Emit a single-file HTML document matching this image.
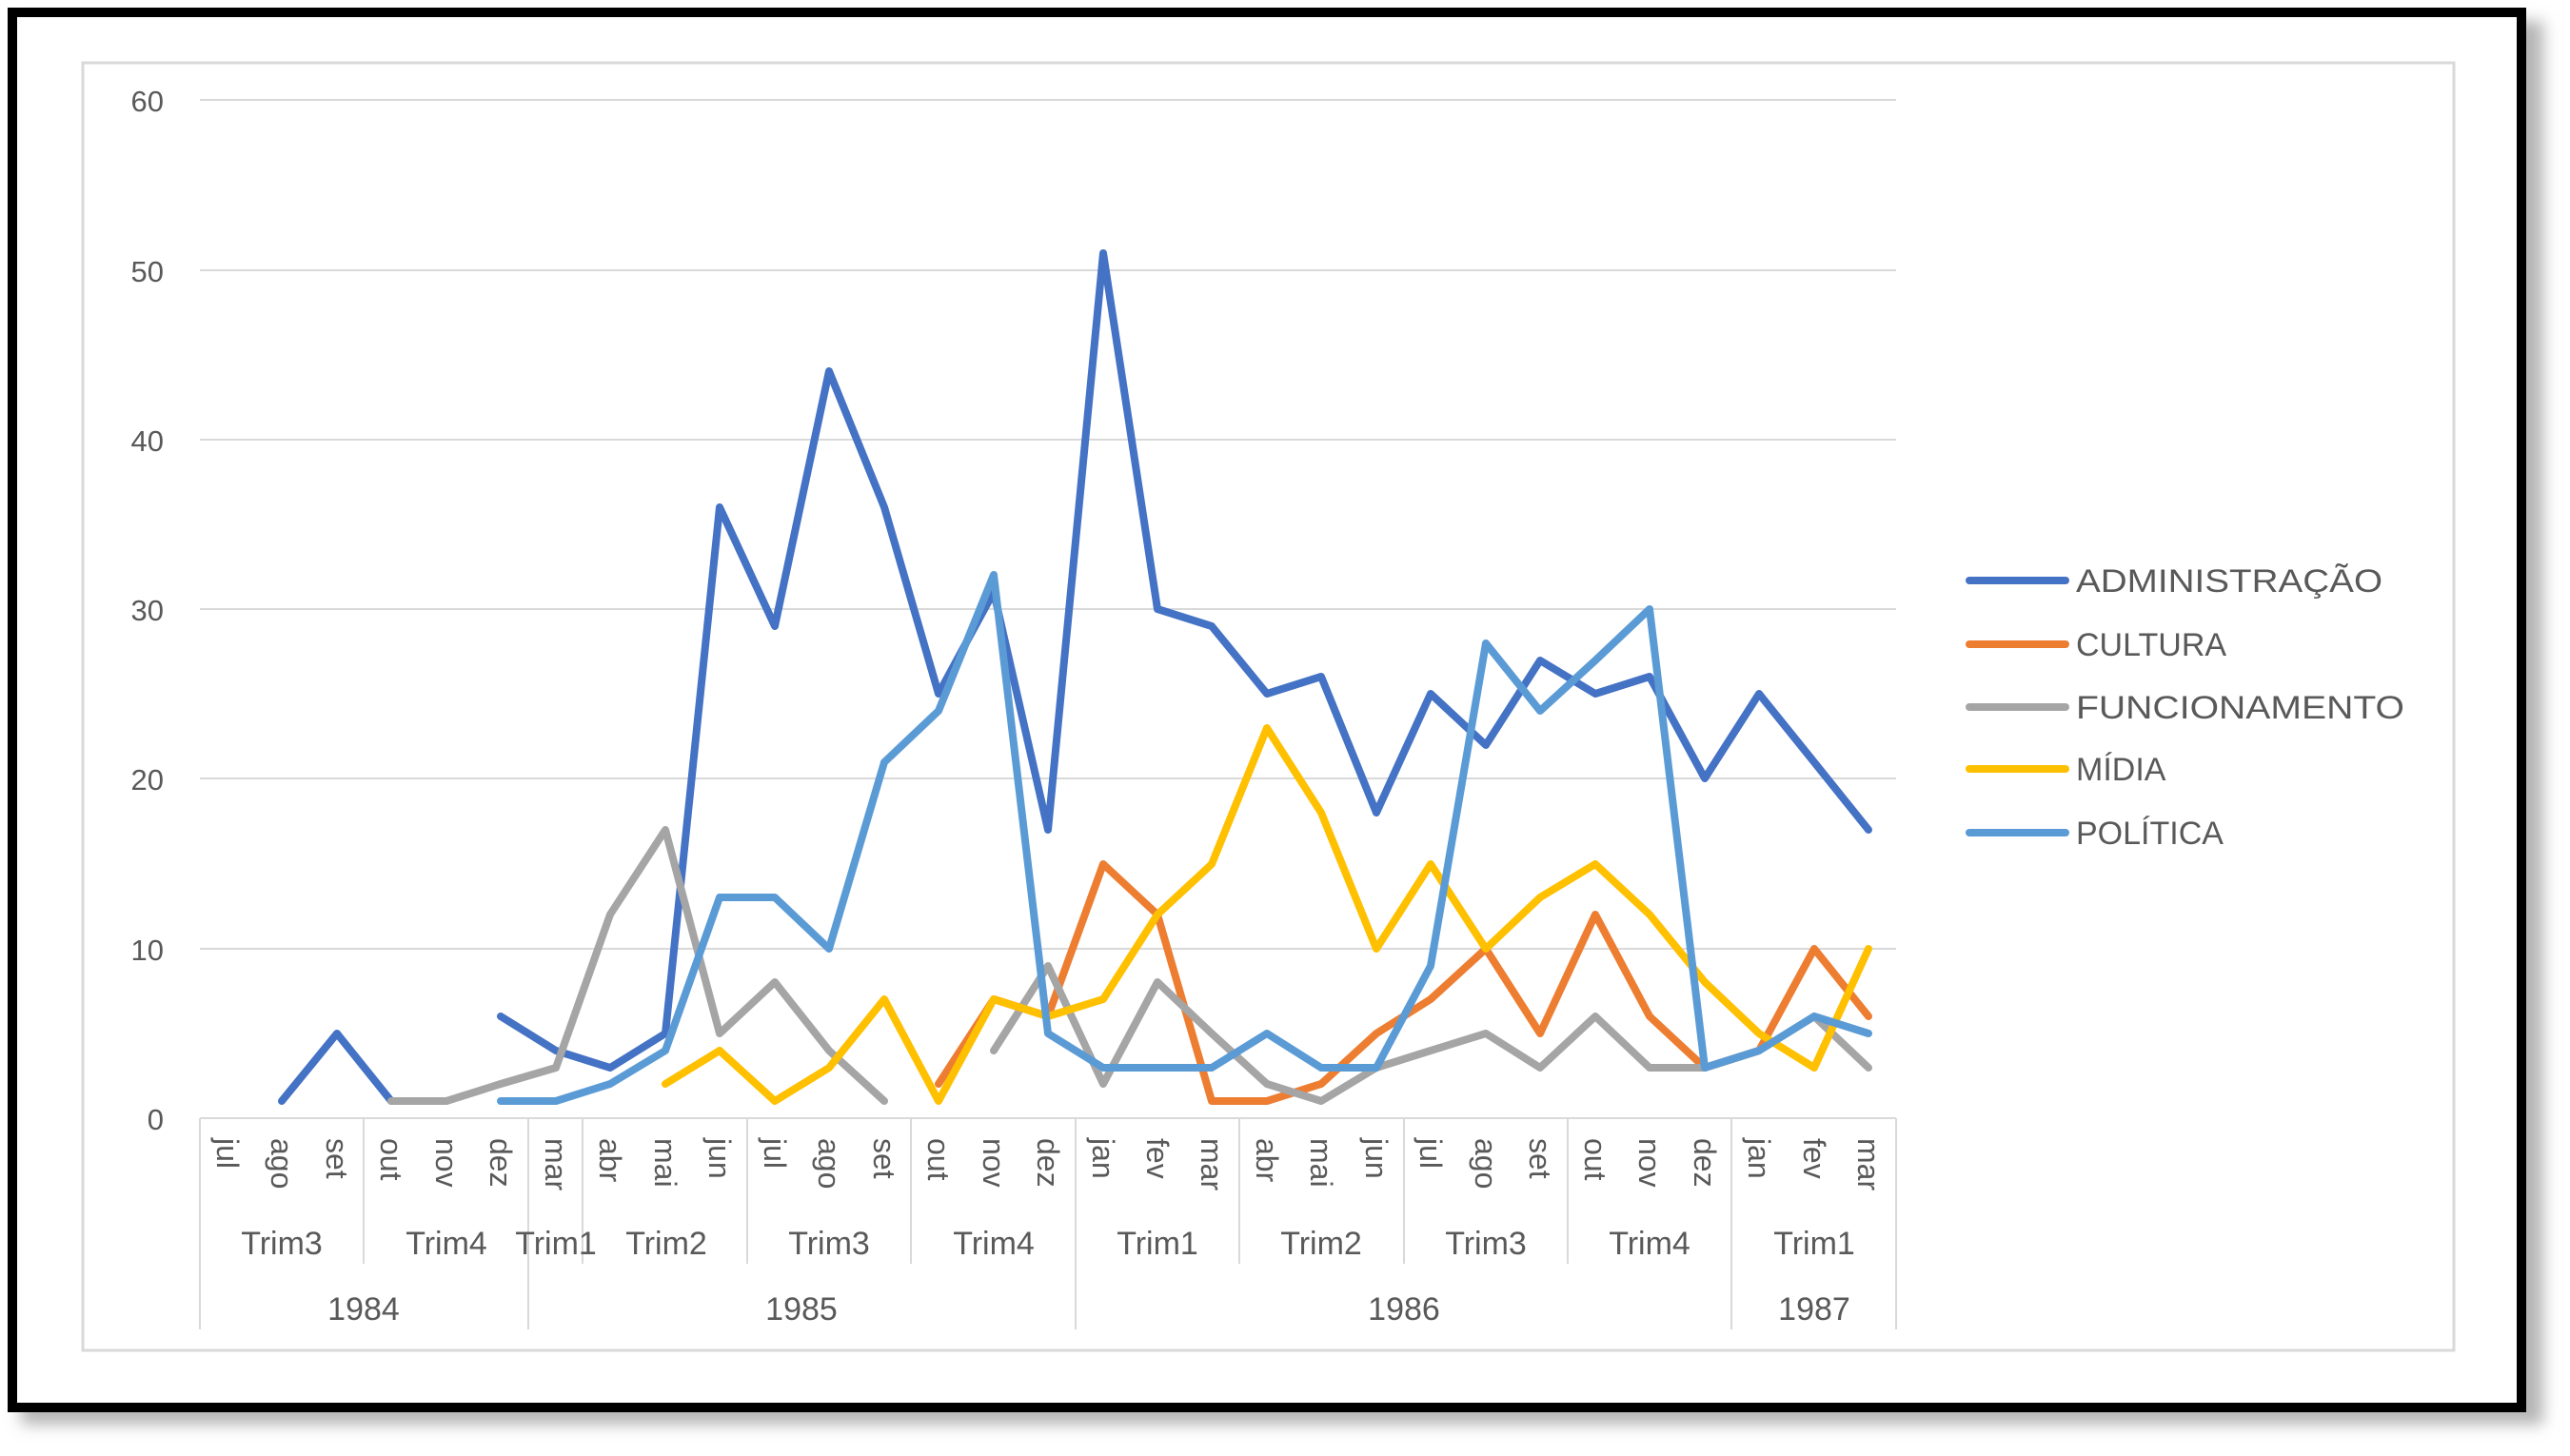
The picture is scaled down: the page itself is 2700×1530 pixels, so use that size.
<!DOCTYPE html>
<html><head><meta charset="utf-8"><style>
html,body{margin:0;padding:0;background:#fff;}
svg{display:block;}
text{font-family:"Liberation Sans",sans-serif;fill:#595959;}
</style></head><body>
<svg width="2700" height="1530" viewBox="0 0 2700 1530" xmlns="http://www.w3.org/2000/svg">
<defs><filter id="b" x="-5%" y="-5%" width="110%" height="110%"><feGaussianBlur stdDeviation="8"/></filter></defs>
<rect x="0" y="0" width="2700" height="1530" fill="#fff"/>
<!-- shadow -->
<rect x="22" y="22" width="2650" height="1475" fill="#b5b5b5" filter="url(#b)"/>
<rect x="13" y="13" width="2636" height="1466" fill="#fff" stroke="#000" stroke-width="10"/>
<!-- inner chart frame -->
<rect x="87" y="66" width="2491" height="1353" fill="#fff" stroke="#d9d9d9" stroke-width="3"/>
<!-- gridlines -->
<g stroke="#d9d9d9" stroke-width="2">
<line x1="210" y1="105" x2="1992" y2="105"/>
<line x1="210" y1="284" x2="1992" y2="284"/>
<line x1="210" y1="462" x2="1992" y2="462"/>
<line x1="210" y1="640" x2="1992" y2="640"/>
<line x1="210" y1="818" x2="1992" y2="818"/>
<line x1="210" y1="997" x2="1992" y2="997"/>
<line x1="210" y1="1175" x2="1992" y2="1175"/>
</g>
<!-- y labels -->
<g font-size="31" text-anchor="end">
<text x="172" y="117">60</text>
<text x="172" y="296">50</text>
<text x="172" y="474">40</text>
<text x="172" y="652">30</text>
<text x="172" y="830">20</text>
<text x="172" y="1009">10</text>
<text x="172" y="1187">0</text>
</g>
<!-- axis separators -->
<g stroke="#d9d9d9" stroke-width="2">
<line x1="210" y1="1175" x2="210" y2="1397"/>
<line x1="555" y1="1175" x2="555" y2="1397"/>
<line x1="1130" y1="1175" x2="1130" y2="1397"/>
<line x1="1819" y1="1175" x2="1819" y2="1397"/>
<line x1="1992" y1="1175" x2="1992" y2="1397"/>
<line x1="382" y1="1175" x2="382" y2="1328"/>
<line x1="612" y1="1175" x2="612" y2="1328"/>
<line x1="785" y1="1175" x2="785" y2="1328"/>
<line x1="957" y1="1175" x2="957" y2="1328"/>
<line x1="1302" y1="1175" x2="1302" y2="1328"/>
<line x1="1475" y1="1175" x2="1475" y2="1328"/>
<line x1="1647" y1="1175" x2="1647" y2="1328"/>
</g>
<!-- month labels -->
<g font-size="32">
<text transform="translate(228,1196) rotate(90)">jul</text>
<text transform="translate(285,1196) rotate(90)">ago</text>
<text transform="translate(343,1196) rotate(90)">set</text>
<text transform="translate(400,1196) rotate(90)">out</text>
<text transform="translate(458,1196) rotate(90)">nov</text>
<text transform="translate(515,1196) rotate(90)">dez</text>
<text transform="translate(573,1196) rotate(90)">mar</text>
<text transform="translate(630,1196) rotate(90)">abr</text>
<text transform="translate(688,1196) rotate(90)">mai</text>
<text transform="translate(745,1196) rotate(90)">jun</text>
<text transform="translate(803,1196) rotate(90)">jul</text>
<text transform="translate(860,1196) rotate(90)">ago</text>
<text transform="translate(918,1196) rotate(90)">set</text>
<text transform="translate(975,1196) rotate(90)">out</text>
<text transform="translate(1033,1196) rotate(90)">nov</text>
<text transform="translate(1090,1196) rotate(90)">dez</text>
<text transform="translate(1148,1196) rotate(90)">jan</text>
<text transform="translate(1205,1196) rotate(90)">fev</text>
<text transform="translate(1262,1196) rotate(90)">mar</text>
<text transform="translate(1320,1196) rotate(90)">abr</text>
<text transform="translate(1377,1196) rotate(90)">mai</text>
<text transform="translate(1435,1196) rotate(90)">jun</text>
<text transform="translate(1492,1196) rotate(90)">jul</text>
<text transform="translate(1550,1196) rotate(90)">ago</text>
<text transform="translate(1607,1196) rotate(90)">set</text>
<text transform="translate(1665,1196) rotate(90)">out</text>
<text transform="translate(1722,1196) rotate(90)">nov</text>
<text transform="translate(1780,1196) rotate(90)">dez</text>
<text transform="translate(1837,1196) rotate(90)">jan</text>
<text transform="translate(1895,1196) rotate(90)">fev</text>
<text transform="translate(1952,1196) rotate(90)">mar</text>
</g>
<!-- trim labels -->
<g font-size="34" text-anchor="middle">
<text x="296" y="1318">Trim3</text>
<text x="469" y="1318">Trim4</text>
<text x="584" y="1318">Trim1</text>
<text x="700" y="1318">Trim2</text>
<text x="871" y="1318">Trim3</text>
<text x="1044" y="1318">Trim4</text>
<text x="1216" y="1318">Trim1</text>
<text x="1388" y="1318">Trim2</text>
<text x="1561" y="1318">Trim3</text>
<text x="1733" y="1318">Trim4</text>
<text x="1906" y="1318">Trim1</text>
</g>
<g font-size="34" text-anchor="middle">
<text x="382" y="1387">1984</text>
<text x="842" y="1387">1985</text>
<text x="1475" y="1387">1986</text>
<text x="1906" y="1387">1987</text>
</g>
<!-- series -->
<g fill="none" stroke-width="8" stroke-linejoin="round" stroke-linecap="round">
<polyline stroke="#4472C4" points="296,1157 354,1086 411,1157"/>
<polyline stroke="#4472C4" points="526,1068 584,1104 641,1122 699,1086 756,533 814,658 871,390 929,533 986,729 1044,622 1101,872 1159,266 1216,640 1273,658 1331,729 1388,711 1446,854 1503,729 1561,783 1618,694 1676,729 1733,711 1791,818 1848,729 1906,801 1963,872"/>
<polyline stroke="#ED7D31" points="986,1139 1044,1050 1101,1068 1159,908 1216,961 1273,1157 1331,1157 1388,1139 1446,1086 1503,1050 1561,997 1618,1086 1676,961 1733,1068 1791,1122 1848,1104 1906,997 1963,1068"/>
<polyline stroke="#A5A5A5" points="411,1157 469,1157 526,1139 584,1122 641,961 699,872 756,1086 814,1032 871,1104 929,1157"/>
<polyline stroke="#A5A5A5" points="1044,1104 1101,1015 1159,1139 1216,1032 1273,1086 1331,1139 1388,1157 1446,1122 1503,1104 1561,1086 1618,1122 1676,1068 1733,1122 1791,1122 1848,1104 1906,1068 1963,1122"/>
<polyline stroke="#FFC000" points="699,1139 756,1104 814,1157 871,1122 929,1050 986,1157 1044,1050 1101,1068 1159,1050 1216,961 1273,908 1331,765 1388,854 1446,997 1503,908 1561,997 1618,943 1676,908 1733,961 1791,1032 1848,1086 1906,1122 1963,997"/>
<polyline stroke="#5B9BD5" points="526,1157 584,1157 641,1139 699,1104 756,943 814,943 871,997 929,801 986,747 1044,604 1101,1086 1159,1122 1216,1122 1273,1122 1331,1086 1388,1122 1446,1122 1503,1015 1561,676 1618,747 1676,694 1733,640 1791,1122 1848,1104 1906,1068 1963,1086"/>
</g>
<!-- legend -->
<g stroke-width="8" stroke-linecap="round">
<line x1="2069" y1="610" x2="2170" y2="610" stroke="#4472C4"/>
<line x1="2069" y1="677" x2="2170" y2="677" stroke="#ED7D31"/>
<line x1="2069" y1="743" x2="2170" y2="743" stroke="#A5A5A5"/>
<line x1="2069" y1="808" x2="2170" y2="808" stroke="#FFC000"/>
<line x1="2069" y1="875" x2="2170" y2="875" stroke="#5B9BD5"/>
</g>
<g font-size="34">
<text x="2181" y="622" textLength="322" lengthAdjust="spacingAndGlyphs">ADMINISTRAÇÃO</text>
<text x="2181" y="689">CULTURA</text>
<text x="2181" y="755" textLength="345" lengthAdjust="spacingAndGlyphs">FUNCIONAMENTO</text>
<text x="2181" y="820">MÍDIA</text>
<text x="2181" y="887">POLÍTICA</text>
</g>
</svg>
</body></html>
